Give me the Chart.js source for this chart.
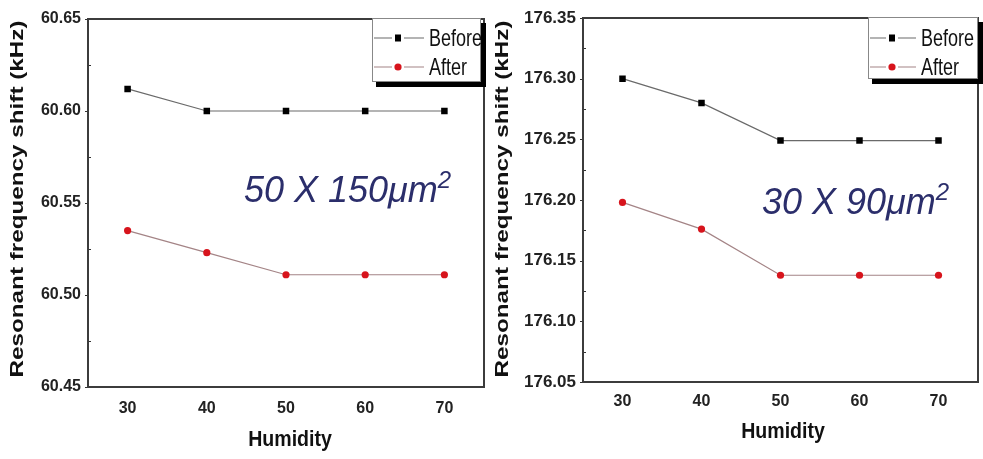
<!DOCTYPE html>
<html>
<head>
<meta charset="utf-8">
<script src="https://cdn.jsdelivr.net/npm/chart.js@4.4.1/dist/chart.umd.min.js"></script>
<style>
  body { margin: 0; background: #fff; width: 983px; height: 459px; position: relative; overflow: hidden; }
  .panel { position: absolute; top: 0; height: 459px; }
  .note { position: absolute; font: italic 36px "Liberation Sans", Arial, sans-serif; line-height: 36px; color: #2b2e6b; white-space: nowrap; }
  .note span { font-size: 24px; position: relative; top: -14px; }
</style>
</head>
<body>
<div class="panel" style="left:0;width:490px"><canvas id="left" width="490" height="459"></canvas></div>
<div class="panel" style="left:490px;width:493px"><canvas id="right" width="493" height="459"></canvas></div>
<div class="note" style="left:244px;top:172px">50 X 150μm<span>2</span></div>
<div class="note" style="left:762px;top:184px">30 X 90μm<span>2</span></div>
<script>
// data
const humidity = ["30", "40", "50", "60", "70"];
const before50x150 = [60.612, 60.600, 60.600, 60.600, 60.600];
const after50x150 = [60.535, 60.523, 60.511, 60.511, 60.511];
const before30x90 = [176.300, 176.280, 176.249, 176.249, 176.249];
const after30x90 = [176.198, 176.176, 176.138, 176.138, 176.138];
const yTicks50x150 = [60.45, 60.50, 60.55, 60.60, 60.65];
const yTicks30x90 = [176.05, 176.10, 176.15, 176.20, 176.25, 176.30, 176.35];

const FONT = "'Liberation Sans', Arial, sans-serif";

// frame, small axis ticks, boxed legend with shadow, axis titles
const panelPlugin = {
  id: "panel",
  afterDraw(chart, args, o) {
    const ctx = chart.ctx, a = chart.chartArea, y = chart.scales.y;
    ctx.save();

    // ticks on the left axis (majors + minors in between)
    ctx.strokeStyle = "#333";
    ctx.lineWidth = 1;
    const t = y.ticks.map(k => k.value);
    for (let i = 0; i < t.length; i++) {
      const py = Math.round(y.getPixelForValue(t[i])) + 0.5;
      ctx.beginPath(); ctx.moveTo(a.left - 3, py); ctx.lineTo(a.left, py); ctx.stroke();
      if (i < t.length - 1) {
        const pm = Math.round(y.getPixelForValue((t[i] + t[i + 1]) / 2)) + 0.5;
        ctx.beginPath(); ctx.moveTo(a.left, pm); ctx.lineTo(a.left + 3, pm); ctx.stroke();
      }
    }

    // frame
    ctx.strokeStyle = "#3c3c3c";
    ctx.lineWidth = 2;
    ctx.strokeRect(a.left, a.top, a.right - a.left, a.bottom - a.top);

    // legend
    const L = o.legend;
    ctx.fillStyle = "#000";
    ctx.fillRect(L.x + 4, L.y + L.h, L.w + 1, 5);
    ctx.fillRect(L.x + L.w, L.y + 5, 5, L.h);
    ctx.fillStyle = "#fff";
    ctx.fillRect(L.x, L.y, L.w, L.h);
    ctx.strokeStyle = "#888";
    ctx.lineWidth = 1;
    ctx.strokeRect(L.x + 0.5, L.y + 0.5, L.w - 1, L.h - 1);

    chart.data.datasets.forEach((ds, i) => {
      const cy = L.rows[i];
      ctx.strokeStyle = ds.borderColor;
      ctx.lineWidth = 1.2;
      ctx.beginPath();
      ctx.moveTo(L.x + 2, cy); ctx.lineTo(L.x + L.seg, cy);
      ctx.moveTo(L.x + L.seg + 12, cy); ctx.lineTo(L.x + 2 * L.seg + 12, cy);
      ctx.stroke();
      const mx = L.x + L.seg + 6;
      ctx.fillStyle = ds.pointBackgroundColor;
      if (ds.pointStyle === "rect") ctx.fillRect(mx - 3, cy - 3.5, 6, 7);
      else { ctx.beginPath(); ctx.arc(mx, cy, 3.6, 0, Math.PI * 2); ctx.fill(); }

      ctx.save();
      ctx.translate(L.x + 2 * L.seg + 17, cy);
      ctx.scale(1, 1.3);
      ctx.fillStyle = "#111";
      ctx.font = "18px " + FONT;
      ctx.textBaseline = "middle";
      ctx.fillText(ds.label, 0, 1);
      ctx.restore();
    });

    // y title, stretched along its length like the original
    ctx.save();
    ctx.fillStyle = "#111";
    ctx.font = "bold 19px " + FONT;
    ctx.textAlign = "center";
    ctx.textBaseline = "middle";
    ctx.translate(o.yTitle.x, o.yTitle.y);
    ctx.rotate(-Math.PI / 2);
    const yt = "Resonant frequency shift (kHz)";
    ctx.scale(o.yTitle.len / ctx.measureText(yt).width, 1);
    ctx.fillText(yt, 0, 0);
    ctx.restore();

    // x title
    ctx.save();
    ctx.fillStyle = "#111";
    ctx.font = "bold 19px " + FONT;
    ctx.textAlign = "center";
    ctx.textBaseline = "middle";
    ctx.translate(o.xTitle.x, o.xTitle.y);
    ctx.scale(1.03, 1.2);
    ctx.fillText("Humidity", 0, 0);
    ctx.restore();

    ctx.restore();
  }
};

function makeChart(id, before, after, yTicks, lay) {
  new Chart(document.getElementById(id), {
    type: "line",
    data: {
      labels: humidity,
      datasets: [
        {
          label: "Before",
          data: before,
          borderColor: "#6a6a6a",
          borderWidth: 1.2,
          pointStyle: "rect",
          pointRadius: 4.6,
          pointBackgroundColor: "#000",
          pointBorderColor: "#000",
          pointBorderWidth: 0,
          tension: 0,
        },
        {
          label: "After",
          data: after,
          borderColor: "#a48486",
          borderWidth: 1.2,
          pointStyle: "circle",
          pointRadius: 3.6,
          pointBackgroundColor: "#d7141c",
          pointBorderColor: "#d7141c",
          pointBorderWidth: 0,
          tension: 0,
        },
      ],
    },
    options: {
      responsive: false,
      animation: false,
      layout: { padding: { top: lay.top, right: lay.right, left: 0, bottom: 0 } },
      plugins: {
        legend: { display: false },
        tooltip: { enabled: false },
        panel: lay,
      },
      scales: {
        x: {
          type: "category",
          offset: true,
          grid: { display: false, drawTicks: false },
          border: { display: false },
          ticks: { color: "#222", padding: lay.xPad, font: { family: FONT, weight: "bold", size: 16 } },
          afterFit: s => { s.height = lay.xHeight; },
        },
        y: {
          min: yTicks[0],
          max: yTicks[yTicks.length - 1],
          grid: { display: false, drawTicks: false },
          border: { display: false },
          afterBuildTicks: s => { s.ticks = yTicks.map(v => ({ value: v })); },
          ticks: {
            color: "#222",
            padding: 7,
            font: { family: FONT, weight: "bold", size: lay.yFont },
            callback: v => Number(v).toFixed(2),
          },
          afterFit: s => { s.width = lay.yWidth; },
        },
      },
    },
    plugins: [panelPlugin],
  });
}

makeChart("left", before50x150, after50x150, yTicks50x150, {
  top: 19, right: 6, xHeight: 72, xPad: 12, yWidth: 88, yFont: 16,
  legend: { x: 372, y: 18, w: 109, h: 64, seg: 20, rows: [38, 67] },
  yTitle: { x: 18, y: 199, len: 357 },
  xTitle: { x: 290, y: 440 },
});

makeChart("right", before30x90, after30x90, yTicks30x90, {
  top: 18, right: 5, xHeight: 77, xPad: 10, yWidth: 93, yFont: 17,
  legend: { x: 378, y: 17, w: 110, h: 62, seg: 18, rows: [38, 67] },
  yTitle: { x: 13, y: 199, len: 357 },
  xTitle: { x: 293, y: 432 },
});
</script>
</body>
</html>
